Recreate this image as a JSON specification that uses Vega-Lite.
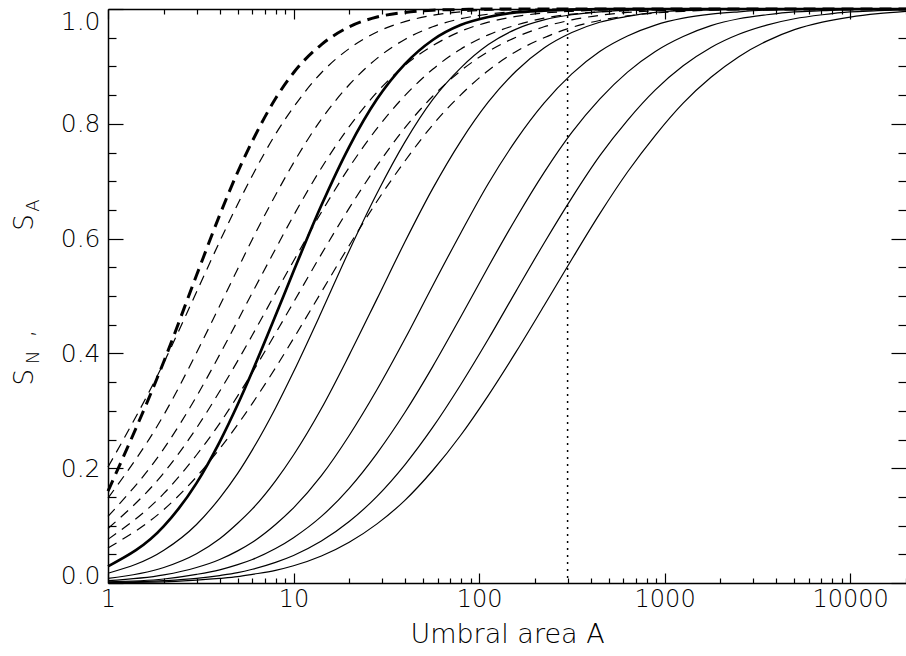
{
  "$schema": "https://vega.github.io/schema/vega-lite/v6.json",
  "width": 798,
  "height": 574,
  "autosize": "none",
  "padding": {"left": 108, "top": 9, "right": 0, "bottom": 73},
  "background": "white",
  "config": {
    "view": {"stroke": null},
    "axis": {"domainColor": "black", "tickColor": "black", "labelColor": "black", "titleColor": "black", "grid": false, "labelFont": "DejaVu Sans", "titleFont": "DejaVu Sans", "domainWidth": 1.5, "tickWidth": 1.2, "titleFontWeight": 200, "labelFontWeight": 200, "labelOverlap": false, "labelBound": false, "labelFlush": false}
  },
  "datasets": {
    "thinSA": [
      {"c":"S2","A":1,"S":0.017},{"c":"S2","A":2,"S":0.057},{"c":"S2","A":3,"S":0.102},{"c":"S2","A":4,"S":0.148},{"c":"S2","A":5,"S":0.191},{"c":"S2","A":6,"S":0.232},{"c":"S2","A":8,"S":0.305},{"c":"S2","A":10,"S":0.368},{"c":"S2","A":14.13,"S":0.472},{"c":"S2","A":19.95,"S":0.579},{"c":"S2","A":28.18,"S":0.679},{"c":"S2","A":39.81,"S":0.768},{"c":"S2","A":56.23,"S":0.842},{"c":"S2","A":79.43,"S":0.897},{"c":"S2","A":112.2,"S":0.938},{"c":"S2","A":158.5,"S":0.965},{"c":"S2","A":223.9,"S":0.981},{"c":"S2","A":316.2,"S":0.99},{"c":"S2","A":446.7,"S":0.995},{"c":"S2","A":631,"S":0.998},{"c":"S2","A":891.3,"S":0.999},{"c":"S2","A":1259,"S":1.0},{"c":"S2","A":20000,"S":1.0},
      {"c":"S3","A":1,"S":0.008},{"c":"S3","A":2,"S":0.027},{"c":"S3","A":3,"S":0.051},{"c":"S3","A":4,"S":0.077},{"c":"S3","A":5,"S":0.104},{"c":"S3","A":6,"S":0.129},{"c":"S3","A":8,"S":0.178},{"c":"S3","A":10,"S":0.223},{"c":"S3","A":14.13,"S":0.304},{"c":"S3","A":19.95,"S":0.397},{"c":"S3","A":28.18,"S":0.495},{"c":"S3","A":39.81,"S":0.594},{"c":"S3","A":56.23,"S":0.687},{"c":"S3","A":79.43,"S":0.769},{"c":"S3","A":112.2,"S":0.838},{"c":"S3","A":158.5,"S":0.892},{"c":"S3","A":223.9,"S":0.932},{"c":"S3","A":316.2,"S":0.959},{"c":"S3","A":446.7,"S":0.977},{"c":"S3","A":631,"S":0.987},{"c":"S3","A":891.3,"S":0.994},{"c":"S3","A":1259,"S":0.997},{"c":"S3","A":1778,"S":0.999},{"c":"S3","A":3548,"S":1.0},{"c":"S3","A":20000,"S":1.0},
      {"c":"S4","A":1,"S":0.004},{"c":"S4","A":2,"S":0.014},{"c":"S4","A":3,"S":0.027},{"c":"S4","A":4,"S":0.041},{"c":"S4","A":5,"S":0.056},{"c":"S4","A":6,"S":0.071},{"c":"S4","A":8,"S":0.102},{"c":"S4","A":10,"S":0.131},{"c":"S4","A":14.13,"S":0.187},{"c":"S4","A":19.95,"S":0.257},{"c":"S4","A":28.18,"S":0.337},{"c":"S4","A":39.81,"S":0.425},{"c":"S4","A":56.23,"S":0.518},{"c":"S4","A":79.43,"S":0.609},{"c":"S4","A":112.2,"S":0.696},{"c":"S4","A":158.5,"S":0.772},{"c":"S4","A":223.9,"S":0.836},{"c":"S4","A":316.2,"S":0.887},{"c":"S4","A":446.7,"S":0.926},{"c":"S4","A":631,"S":0.953},{"c":"S4","A":891.3,"S":0.972},{"c":"S4","A":1259,"S":0.984},{"c":"S4","A":1778,"S":0.991},{"c":"S4","A":2512,"S":0.995},{"c":"S4","A":3548,"S":0.998},{"c":"S4","A":5012,"S":0.999},{"c":"S4","A":7079,"S":1.0},{"c":"S4","A":20000,"S":1.0},
      {"c":"S5","A":1,"S":0.002},{"c":"S5","A":2,"S":0.007},{"c":"S5","A":3,"S":0.015},{"c":"S5","A":4,"S":0.023},{"c":"S5","A":5,"S":0.032},{"c":"S5","A":6,"S":0.041},{"c":"S5","A":8,"S":0.06},{"c":"S5","A":10,"S":0.079},{"c":"S5","A":14.13,"S":0.116},{"c":"S5","A":19.95,"S":0.165},{"c":"S5","A":28.18,"S":0.226},{"c":"S5","A":39.81,"S":0.297},{"c":"S5","A":56.23,"S":0.377},{"c":"S5","A":79.43,"S":0.463},{"c":"S5","A":112.2,"S":0.551},{"c":"S5","A":158.5,"S":0.636},{"c":"S5","A":223.9,"S":0.715},{"c":"S5","A":316.2,"S":0.785},{"c":"S5","A":446.7,"S":0.843},{"c":"S5","A":631,"S":0.89},{"c":"S5","A":891.3,"S":0.926},{"c":"S5","A":1259,"S":0.952},{"c":"S5","A":1778,"S":0.971},{"c":"S5","A":2512,"S":0.983},{"c":"S5","A":3548,"S":0.99},{"c":"S5","A":5012,"S":0.995},{"c":"S5","A":7079,"S":0.997},{"c":"S5","A":10000,"S":0.999},{"c":"S5","A":20000,"S":1.0},
      {"c":"S6","A":1,"S":0.001},{"c":"S6","A":2,"S":0.004},{"c":"S6","A":3,"S":0.008},{"c":"S6","A":4,"S":0.013},{"c":"S6","A":5,"S":0.018},{"c":"S6","A":6,"S":0.024},{"c":"S6","A":8,"S":0.036},{"c":"S6","A":10,"S":0.048},{"c":"S6","A":14.13,"S":0.073},{"c":"S6","A":19.95,"S":0.107},{"c":"S6","A":28.18,"S":0.151},{"c":"S6","A":39.81,"S":0.206},{"c":"S6","A":56.23,"S":0.271},{"c":"S6","A":79.43,"S":0.345},{"c":"S6","A":112.2,"S":0.425},{"c":"S6","A":158.5,"S":0.509},{"c":"S6","A":223.9,"S":0.592},{"c":"S6","A":316.2,"S":0.671},{"c":"S6","A":446.7,"S":0.744},{"c":"S6","A":631,"S":0.806},{"c":"S6","A":891.3,"S":0.859},{"c":"S6","A":1259,"S":0.901},{"c":"S6","A":1778,"S":0.933},{"c":"S6","A":2512,"S":0.956},{"c":"S6","A":3548,"S":0.972},{"c":"S6","A":5012,"S":0.983},{"c":"S6","A":7079,"S":0.99},{"c":"S6","A":10000,"S":0.995},{"c":"S6","A":14125,"S":0.997},{"c":"S6","A":20000,"S":0.999},
      {"c":"S7","A":1,"S":0.001},{"c":"S7","A":2,"S":0.002},{"c":"S7","A":3,"S":0.005},{"c":"S7","A":4,"S":0.008},{"c":"S7","A":5,"S":0.011},{"c":"S7","A":6,"S":0.015},{"c":"S7","A":8,"S":0.022},{"c":"S7","A":10,"S":0.03},{"c":"S7","A":14.13,"S":0.047},{"c":"S7","A":19.95,"S":0.071},{"c":"S7","A":28.18,"S":0.103},{"c":"S7","A":39.81,"S":0.144},{"c":"S7","A":56.23,"S":0.196},{"c":"S7","A":79.43,"S":0.257},{"c":"S7","A":112.2,"S":0.327},{"c":"S7","A":158.5,"S":0.403},{"c":"S7","A":223.9,"S":0.483},{"c":"S7","A":316.2,"S":0.564},{"c":"S7","A":446.7,"S":0.643},{"c":"S7","A":631,"S":0.716},{"c":"S7","A":891.3,"S":0.78},{"c":"S7","A":1259,"S":0.836},{"c":"S7","A":1778,"S":0.881},{"c":"S7","A":2512,"S":0.917},{"c":"S7","A":3548,"S":0.944},{"c":"S7","A":5012,"S":0.964},{"c":"S7","A":7079,"S":0.977},{"c":"S7","A":10000,"S":0.986},{"c":"S7","A":14125,"S":0.992},{"c":"S7","A":20000,"S":0.996}
    ],
    "thickSA": [
      {"c":"S1","A":1,"S":0.029},{"c":"S1","A":2,"S":0.099},{"c":"S1","A":3,"S":0.174},{"c":"S1","A":4,"S":0.246},{"c":"S1","A":5,"S":0.311},{"c":"S1","A":6,"S":0.369},{"c":"S1","A":8,"S":0.466},{"c":"S1","A":10,"S":0.543},{"c":"S1","A":14.13,"S":0.658},{"c":"S1","A":19.95,"S":0.76},{"c":"S1","A":28.18,"S":0.843},{"c":"S1","A":39.81,"S":0.904},{"c":"S1","A":56.23,"S":0.946},{"c":"S1","A":79.43,"S":0.972},{"c":"S1","A":112.2,"S":0.986},{"c":"S1","A":158.5,"S":0.994},{"c":"S1","A":223.9,"S":0.997},{"c":"S1","A":316.2,"S":0.999},{"c":"S1","A":446.7,"S":1.0},{"c":"S1","A":20000,"S":1.0}
    ],
    "thinSN": [
      {"c":"D1","A":1,"S":0.202},{"c":"D1","A":2,"S":0.384},{"c":"D1","A":3,"S":0.507},{"c":"D1","A":4,"S":0.595},{"c":"D1","A":5,"S":0.66},{"c":"D1","A":6,"S":0.71},{"c":"D1","A":8,"S":0.782},{"c":"D1","A":10,"S":0.829},{"c":"D1","A":14.13,"S":0.889},{"c":"D1","A":19.95,"S":0.931},{"c":"D1","A":28.18,"S":0.96},{"c":"D1","A":39.81,"S":0.978},{"c":"D1","A":56.23,"S":0.989},{"c":"D1","A":79.43,"S":0.995},{"c":"D1","A":112.2,"S":0.998},{"c":"D1","A":158.5,"S":0.999},{"c":"D1","A":223.9,"S":1.0},{"c":"D1","A":20000,"S":1.0},
      {"c":"D2","A":1,"S":0.148},{"c":"D2","A":2,"S":0.293},{"c":"D2","A":3,"S":0.401},{"c":"D2","A":4,"S":0.483},{"c":"D2","A":5,"S":0.547},{"c":"D2","A":6,"S":0.599},{"c":"D2","A":8,"S":0.676},{"c":"D2","A":10,"S":0.732},{"c":"D2","A":14.13,"S":0.808},{"c":"D2","A":19.95,"S":0.868},{"c":"D2","A":28.18,"S":0.914},{"c":"D2","A":39.81,"S":0.947},{"c":"D2","A":56.23,"S":0.969},{"c":"D2","A":79.43,"S":0.983},{"c":"D2","A":112.2,"S":0.991},{"c":"D2","A":158.5,"S":0.996},{"c":"D2","A":223.9,"S":0.998},{"c":"D2","A":316.2,"S":0.999},{"c":"D2","A":446.7,"S":1.0},{"c":"D2","A":20000,"S":1.0},
      {"c":"D3","A":1,"S":0.116},{"c":"D3","A":2,"S":0.234},{"c":"D3","A":3,"S":0.325},{"c":"D3","A":4,"S":0.398},{"c":"D3","A":5,"S":0.457},{"c":"D3","A":6,"S":0.506},{"c":"D3","A":8,"S":0.582},{"c":"D3","A":10,"S":0.64},{"c":"D3","A":14.13,"S":0.723},{"c":"D3","A":19.95,"S":0.795},{"c":"D3","A":28.18,"S":0.855},{"c":"D3","A":39.81,"S":0.902},{"c":"D3","A":56.23,"S":0.936},{"c":"D3","A":79.43,"S":0.961},{"c":"D3","A":112.2,"S":0.977},{"c":"D3","A":158.5,"S":0.987},{"c":"D3","A":223.9,"S":0.993},{"c":"D3","A":316.2,"S":0.996},{"c":"D3","A":446.7,"S":0.998},{"c":"D3","A":631,"S":0.999},{"c":"D3","A":891.3,"S":1.0},{"c":"D3","A":20000,"S":1.0},
      {"c":"D4","A":1,"S":0.095},{"c":"D4","A":2,"S":0.192},{"c":"D4","A":3,"S":0.27},{"c":"D4","A":4,"S":0.334},{"c":"D4","A":5,"S":0.387},{"c":"D4","A":6,"S":0.432},{"c":"D4","A":8,"S":0.505},{"c":"D4","A":10,"S":0.561},{"c":"D4","A":14.13,"S":0.646},{"c":"D4","A":19.95,"S":0.724},{"c":"D4","A":28.18,"S":0.792},{"c":"D4","A":39.81,"S":0.849},{"c":"D4","A":56.23,"S":0.895},{"c":"D4","A":79.43,"S":0.93},{"c":"D4","A":112.2,"S":0.955},{"c":"D4","A":158.5,"S":0.972},{"c":"D4","A":223.9,"S":0.984},{"c":"D4","A":316.2,"S":0.991},{"c":"D4","A":446.7,"S":0.995},{"c":"D4","A":631,"S":0.997},{"c":"D4","A":891.3,"S":0.999},{"c":"D4","A":1259,"S":1.0},{"c":"D4","A":20000,"S":1.0},
      {"c":"D5","A":1,"S":0.076},{"c":"D5","A":2,"S":0.156},{"c":"D5","A":3,"S":0.223},{"c":"D5","A":4,"S":0.278},{"c":"D5","A":5,"S":0.326},{"c":"D5","A":6,"S":0.367},{"c":"D5","A":8,"S":0.435},{"c":"D5","A":10,"S":0.489},{"c":"D5","A":14.13,"S":0.573},{"c":"D5","A":19.95,"S":0.653},{"c":"D5","A":28.18,"S":0.727},{"c":"D5","A":39.81,"S":0.793},{"c":"D5","A":56.23,"S":0.848},{"c":"D5","A":79.43,"S":0.892},{"c":"D5","A":112.2,"S":0.926},{"c":"D5","A":158.5,"S":0.951},{"c":"D5","A":223.9,"S":0.969},{"c":"D5","A":316.2,"S":0.981},{"c":"D5","A":446.7,"S":0.989},{"c":"D5","A":631,"S":0.994},{"c":"D5","A":891.3,"S":0.997},{"c":"D5","A":1259,"S":0.998},{"c":"D5","A":1778,"S":0.999},{"c":"D5","A":2512,"S":1.0},{"c":"D5","A":20000,"S":1.0},
      {"c":"D6","A":1,"S":0.061},{"c":"D6","A":2,"S":0.128},{"c":"D6","A":3,"S":0.185},{"c":"D6","A":4,"S":0.234},{"c":"D6","A":5,"S":0.276},{"c":"D6","A":6,"S":0.313},{"c":"D6","A":8,"S":0.375},{"c":"D6","A":10,"S":0.426},{"c":"D6","A":14.13,"S":0.507},{"c":"D6","A":19.95,"S":0.588},{"c":"D6","A":28.18,"S":0.665},{"c":"D6","A":39.81,"S":0.735},{"c":"D6","A":56.23,"S":0.798},{"c":"D6","A":79.43,"S":0.85},{"c":"D6","A":112.2,"S":0.893},{"c":"D6","A":158.5,"S":0.926},{"c":"D6","A":223.9,"S":0.95},{"c":"D6","A":316.2,"S":0.968},{"c":"D6","A":446.7,"S":0.98},{"c":"D6","A":631,"S":0.988},{"c":"D6","A":891.3,"S":0.993},{"c":"D6","A":1259,"S":0.996},{"c":"D6","A":1778,"S":0.998},{"c":"D6","A":2512,"S":0.999},{"c":"D6","A":3548,"S":1.0},{"c":"D6","A":20000,"S":1.0}
    ],
    "thickSN": [
      {"c":"D0","A":1,"S":0.16},{"c":"D0","A":2,"S":0.386},{"c":"D0","A":3,"S":0.536},{"c":"D0","A":4,"S":0.641},{"c":"D0","A":5,"S":0.716},{"c":"D0","A":6,"S":0.77},{"c":"D0","A":8,"S":0.844},{"c":"D0","A":10,"S":0.889},{"c":"D0","A":14.13,"S":0.938},{"c":"D0","A":19.95,"S":0.969},{"c":"D0","A":28.18,"S":0.986},{"c":"D0","A":39.81,"S":0.994},{"c":"D0","A":56.23,"S":0.998},{"c":"D0","A":79.43,"S":0.999},{"c":"D0","A":112.2,"S":1.0},{"c":"D0","A":20000,"S":1.0}
    ],
    "marker": [{"A": 300}]
  },
  "resolve": {"axis": {"x": "independent", "y": "independent"}},
  "layer": [
    {
      "data": {"name": "thinSA"},
      "mark": {"type": "line", "stroke": "black", "strokeWidth": 1.2, "interpolate": "monotone"},
      "encoding": {
        "x": {"field": "A", "type": "quantitative", "scale": {"type": "log", "domain": [1, 20000], "nice": false},
          "axis": {"orient": "bottom",
            "values": [1,2,3,4,5,6,7,8,9,10,20,30,40,50,60,70,80,90,100,200,300,400,500,600,700,800,900,1000,2000,3000,4000,5000,6000,7000,8000,9000,10000,20000],
            "tickSize": {"condition": {"test": "datum.value==1||datum.value==10||datum.value==100||datum.value==1000||datum.value==10000", "value": -10}, "value": -5},
            "labelExpr": "(datum.value==1||datum.value==10||datum.value==100||datum.value==1000||datum.value==10000) ? format(datum.value,'d') : ''",
            "labelFontSize": 24, "labelPadding": 14, "labelBaseline": "top",
            "title": "Umbral area A", "titleFontSize": 27, "titleY": 59, "titleBaseline": "alphabetic"}},
        "y": {"field": "S", "type": "quantitative", "scale": {"domain": [0, 1], "nice": false, "zero": false},
          "axis": {"orient": "left",
            "values": [0,0.05,0.1,0.15,0.2,0.25,0.3,0.35,0.4,0.45,0.5,0.55,0.6,0.65,0.7,0.75,0.8,0.85,0.9,0.95,1],
            "tickSize": {"condition": {"test": "abs(datum.value*5-round(datum.value*5))<0.001", "value": -15}, "value": -8},
            "labelExpr": "abs(datum.value*5-round(datum.value*5))<0.001 ? format(datum.value,'.1f') : ''",
            "labelFontSize": 25, "labelPadding": 23,
            "labelBaseline": {"condition": [{"test": "datum.value>0.999", "value": "top"}, {"test": "datum.value<0.001", "value": "alphabetic"}], "value": "middle"},
            "title": "S\u2003\u2009,\u2003\u2003\u2003\u2002\u2009\u200AS", "titleFontSize": 26, "titleAngle": 270, "titleAlign": "left", "titleBaseline": "alphabetic", "titleX": -76, "titleY": 376}},
        "detail": {"field": "c", "type": "nominal"}
      }
    },
    {
      "data": {"name": "thickSA"},
      "mark": {"type": "line", "stroke": "black", "strokeWidth": 2.7, "interpolate": "monotone"},
      "encoding": {
        "x": {"field": "A", "type": "quantitative",
          "axis": {"orient": "top", "labels": false, "title": null,
            "values": [1,2,3,4,5,6,7,8,9,10,20,30,40,50,60,70,80,90,100,200,300,400,500,600,700,800,900,1000,2000,3000,4000,5000,6000,7000,8000,9000,10000,20000],
            "tickSize": {"condition": {"test": "datum.value==1||datum.value==10||datum.value==100||datum.value==1000||datum.value==10000", "value": -10}, "value": -5}}},
        "y": {"field": "S", "type": "quantitative",
          "axis": {"orient": "right", "labels": false, "title": null, "domain": false,
            "values": [0,0.05,0.1,0.15,0.2,0.25,0.3,0.35,0.4,0.45,0.5,0.55,0.6,0.65,0.7,0.75,0.8,0.85,0.9,0.95,1],
            "tickSize": {"condition": {"test": "abs(datum.value*5-round(datum.value*5))<0.001", "value": -15}, "value": -8}}},
        "detail": {"field": "c", "type": "nominal"}
      }
    },
    {
      "data": {"name": "thinSN"},
      "mark": {"type": "line", "stroke": "black", "strokeWidth": 1.2, "strokeDash": [10, 7], "interpolate": "monotone"},
      "encoding": {
        "x": {"field": "A", "type": "quantitative", "axis": null},
        "y": {"field": "S", "type": "quantitative",
          "axis": {"orient": "left", "labels": false, "ticks": false, "domain": false,
            "title": "\u200B\u2002\u2002\u2009N\u2003\u2003\u2003\u2003\u2003\u2003\u2003\u2002\u2009A", "titleFontSize": 18, "titleAngle": 270, "titleAlign": "left", "titleBaseline": "alphabetic", "titleX": -70, "titleY": 376}},
        "detail": {"field": "c", "type": "nominal"}
      }
    },
    {
      "data": {"name": "thickSN"},
      "mark": {"type": "line", "stroke": "black", "strokeWidth": 3, "strokeDash": [12, 7], "interpolate": "monotone"},
      "encoding": {
        "x": {"field": "A", "type": "quantitative", "axis": null},
        "y": {"field": "S", "type": "quantitative", "axis": null},
        "detail": {"field": "c", "type": "nominal"}
      }
    },
    {
      "data": {"name": "marker"},
      "mark": {"type": "rule", "stroke": "black", "strokeWidth": 1.5, "strokeDash": [2, 5]},
      "encoding": {
        "x": {"field": "A", "type": "quantitative", "axis": null}
      }
    }
  ]
}
